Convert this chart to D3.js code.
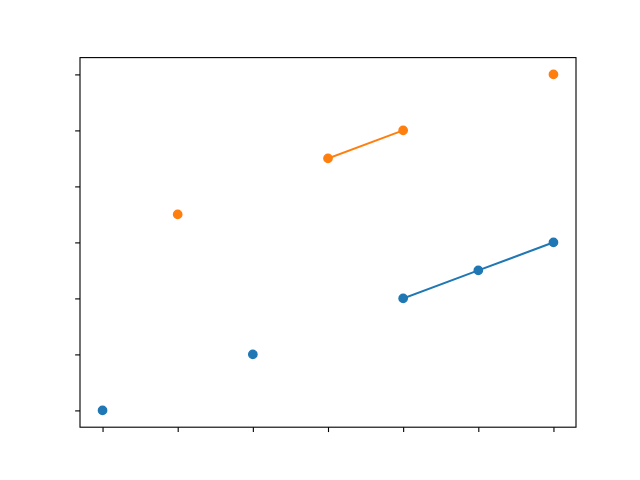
<!DOCTYPE html>
<html>
<head>
<meta charset="utf-8">
<script src="https://d3js.org/d3.v7.min.js"></script>
<style>
  html, body { margin: 0; padding: 0; background: #fff; }
  svg { display: block; }
</style>
</head>
<body>
<div id="chart"></div>
<script>
// x positions and the two series (null = missing value, line breaks there)
const xValues = [0, 1, 2, 3, 4, 5, 6];
const seriesA = [0, null, 1, null, 2, 2.5, 3];
const seriesB = [null, 3.5, null, 4.5, 5, null, 6];
const xTicks = [0, 1, 2, 3, 4, 5, 6];
const yTicks = [0, 1, 2, 3, 4, 5, 6];
const colors = ['#1f77b4', '#ff7f0e'];

const width = 640, height = 480;
const margin = { top: 57.6, right: 64, bottom: 52.8, left: 80 };
const innerW = width - margin.left - margin.right;
const innerH = height - margin.top - margin.bottom;

const svg = d3.select('#chart').append('svg')
    .attr('width', width)
    .attr('height', height);

const g = svg.append('g')
    .attr('transform', `translate(${margin.left},${margin.top})`);

// matplotlib-like 5% padding on each side
const x = d3.scaleLinear().domain([-0.3, 6.3]).range([0, innerW]);
const y = d3.scaleLinear().domain([-0.3, 6.3]).range([innerH, 0]);

// axes with empty tick labels
const xAxis = d3.axisBottom(x).tickValues(xTicks).tickFormat('').tickSizeInner(4.86).tickSizeOuter(0);
const yAxis = d3.axisLeft(y).tickValues(yTicks).tickFormat('').tickSizeInner(4.86).tickSizeOuter(0);

const xg = g.append('g').attr('transform', `translate(0,${innerH})`).call(xAxis);
const yg = g.append('g').call(yAxis);
[xg, yg].forEach(a => {
    a.select('.domain').remove();
    a.selectAll('.tick line').attr('stroke', '#000').attr('stroke-width', 1.11);
});

[seriesA, seriesB].forEach((vals, i) => {
    const pts = xValues.map((xv, j) => ({ x: xv, y: vals[j] }));
    const line = d3.line()
        .defined(d => d.y !== null)
        .x(d => x(d.x))
        .y(d => y(d.y));

    g.append('path')
        .datum(pts)
        .attr('fill', 'none')
        .attr('stroke', colors[i])
        .attr('stroke-width', 2.08)
        .attr('stroke-linecap', 'square')
        .attr('d', line);

    // marker: 6pt face plus 1pt edge of the same colour
    g.selectAll(`.dot-${i}`)
        .data(pts.filter(d => d.y !== null))
        .enter()
        .append('circle')
        .attr('class', `dot-${i}`)
        .attr('cx', d => x(d.x))
        .attr('cy', d => y(d.y))
        .attr('r', 4.17)
        .attr('fill', colors[i])
        .attr('stroke', colors[i])
        .attr('stroke-width', 1.39);
});

// frame
g.append('rect')
    .attr('width', innerW)
    .attr('height', innerH)
    .attr('fill', 'none')
    .attr('stroke', '#000')
    .attr('stroke-width', 1.11);
</script>
</body>
</html>
